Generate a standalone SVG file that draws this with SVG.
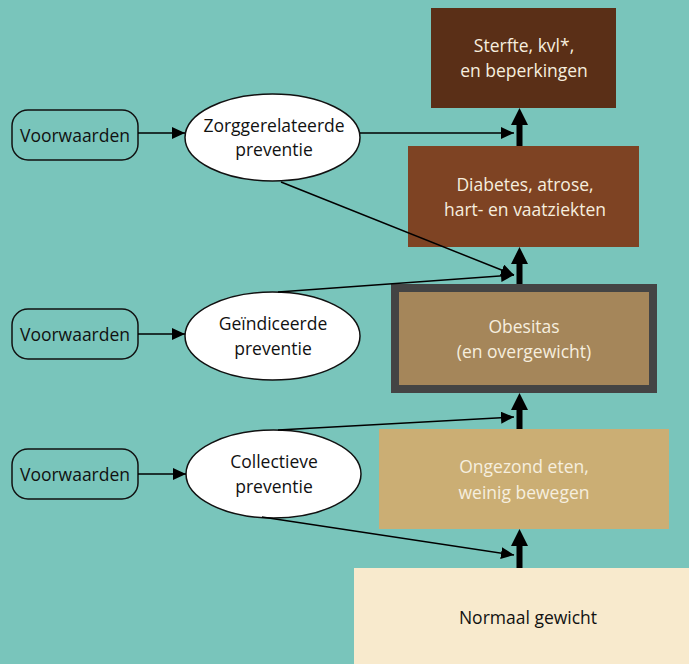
<svg xmlns="http://www.w3.org/2000/svg" width="689" height="664" viewBox="0 0 689 664">
<defs>
<marker id="thin2" markerWidth="13" markerHeight="12" refX="13" refY="6" orient="auto" markerUnits="userSpaceOnUse" viewBox="0 0 13 12"><path d="M0,0 L13,6 L0,12 Z" fill="#000"/></marker>
</defs>
<style>
text{font-family:"Open Sans","Noto Sans","Liberation Sans",sans-serif;font-size:17.5px;text-anchor:middle}
.w{fill:#F6EEDF}
.k{fill:#111}
.vw{fill:none;stroke:#111;stroke-width:1.5}
.el{fill:#fff;stroke:#111;stroke-width:1.5}
.ln{stroke:#000;stroke-width:1.5;fill:none}
.thick{fill:#000}
</style>
<rect x="0" y="0" width="689" height="664" fill="#79C5BB"/>
<g id="sterfte"><rect x="431" y="8" width="185" height="100" fill="#5A2F17"/><text class="w" x="524" y="52">Sterfte, kvl*,</text><text class="w" x="524" y="77">en beperkingen</text></g>
<g id="diabetes"><rect x="408" y="146" width="231" height="101" fill="#7E4323"/><text class="w" x="525" y="191">Diabetes, atrose,</text><text class="w" x="525" y="216">hart- en vaatziekten</text></g>
<g id="obesitas"><rect x="395" y="288" width="258" height="101" fill="#A5865A" stroke="#444" stroke-width="8"/><text class="w" x="524" y="333">Obesitas</text><text class="w" x="524" y="358">(en overgewicht)</text></g>
<g id="ongezond"><rect x="379" y="429" width="290" height="100" fill="#CBAE74"/><text class="w" x="524" y="473">Ongezond eten,</text><text class="w" x="524" y="499">weinig bewegen</text></g>
<g id="normaal"><rect x="354" y="568" width="335" height="96" fill="#F8EACD"/><text class="k" x="528" y="624">Normaal gewicht</text></g>
<g id="vw1"><rect class="vw" x="12" y="110" width="126" height="50" rx="16"/><text class="k" x="75" y="142">Voorwaarden</text></g>
<g id="vw2"><rect class="vw" x="12" y="309" width="126" height="50" rx="16"/><text class="k" x="75" y="341">Voorwaarden</text></g>
<g id="vw3"><rect class="vw" x="12" y="449" width="126" height="50" rx="16"/><text class="k" x="75" y="481">Voorwaarden</text></g>
<g id="zorg"><ellipse class="el" cx="272.5" cy="137.5" rx="87.5" ry="43.5"/><text class="k" x="274" y="132">Zorggerelateerde</text><text class="k" x="274" y="156">preventie</text></g>
<g id="geind"><ellipse class="el" cx="272.5" cy="336" rx="87.5" ry="44"/><text class="k" x="273" y="330">Geïndiceerde</text><text class="k" x="273" y="355">preventie</text></g>
<g id="coll"><ellipse class="el" cx="273.5" cy="474" rx="87.5" ry="44"/><text class="k" x="274" y="468">Collectieve</text><text class="k" x="274" y="493">preventie</text></g>
<g id="connectors">
<line class="ln" x1="138" y1="133" x2="185" y2="133" marker-end="url(#thin2)"/>
<line class="ln" x1="138" y1="334" x2="185" y2="334" marker-end="url(#thin2)"/>
<line class="ln" x1="138" y1="474" x2="186" y2="474" marker-end="url(#thin2)"/>
<line class="ln" x1="360" y1="133" x2="514" y2="133" marker-end="url(#thin2)"/>
<line class="ln" x1="281" y1="182" x2="514" y2="275" marker-end="url(#thin2)"/>
<line class="ln" x1="278" y1="292" x2="514" y2="275" marker-end="url(#thin2)"/>
<line class="ln" x1="278" y1="430" x2="514" y2="417" marker-end="url(#thin2)"/>
<line class="ln" x1="262" y1="517" x2="514" y2="555" marker-end="url(#thin2)"/>
<path class="thick" d="M516.5,146 V125 H511 L519.5,108 L528,125 H522.5 V146 Z"/>
<path class="thick" d="M516.5,284 V264 H511 L519.5,247 L528,264 H522.5 V284 Z"/>
<path class="thick" d="M516.5,429 V410 H511 L519.5,393 L528,410 H522.5 V429 Z"/>
<path class="thick" d="M516.5,568 V546 H511 L519.5,529 L528,546 H522.5 V568 Z"/>
</g>
</svg>
